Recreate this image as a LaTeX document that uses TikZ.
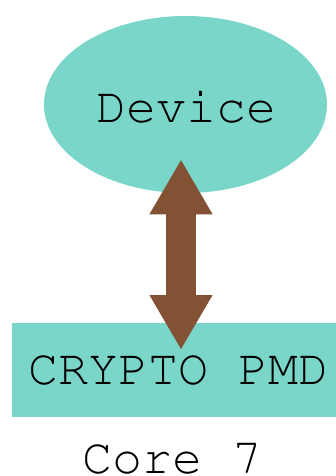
\documentclass[tikz,border=0pt]{standalone}
\usepackage[T1]{fontenc}
\usetikzlibrary{shapes.geometric,arrows.meta,calc}
\definecolor{nodeteal}{HTML}{7BD6CA}
\definecolor{linkbrown}{HTML}{835235}
\tikzset{
  lbl/.style={font=\fontencoding{T1}\fontfamily{pcr}\fontsize{50}{50}\selectfont, text=black},
  devnode/.style={ellipse, fill=nodeteal, draw=none, inner sep=0pt,
    minimum width=283pt, minimum height=177pt},
  boxnode/.style={rectangle, fill=nodeteal, draw=none, inner sep=0pt,
    minimum width=333pt, minimum height=94pt},
  link/.style={draw=linkbrown, fill=linkbrown, line width=30pt,
    {Triangle[width=59pt,length=55pt]}-{Triangle[width=59pt,length=55pt]}}
}
\begin{document}
\begin{tikzpicture}[x=1pt,y=1pt]
  \useasboundingbox (0,0) rectangle (336,-476);
  \node[devnode] (dev) at (185.5,-104.5) {};
  \node[lbl, anchor=base] (devtxt) at (186.5,-122.7) {Device};
  \node[boxnode] (pmd) at (178.5,-370) {};
  \node[lbl, anchor=base] (pmdtxt) at (178.5,-384) {CRYPTO PMD};
  \draw[link] ($(dev.center)+(-4.5,-54.8)$) -- ($(pmd.center)+(2.5,20)$);
  \node[lbl, anchor=base] (core) at (172.5,-473) {Core 7};
\end{tikzpicture}
\end{document}
